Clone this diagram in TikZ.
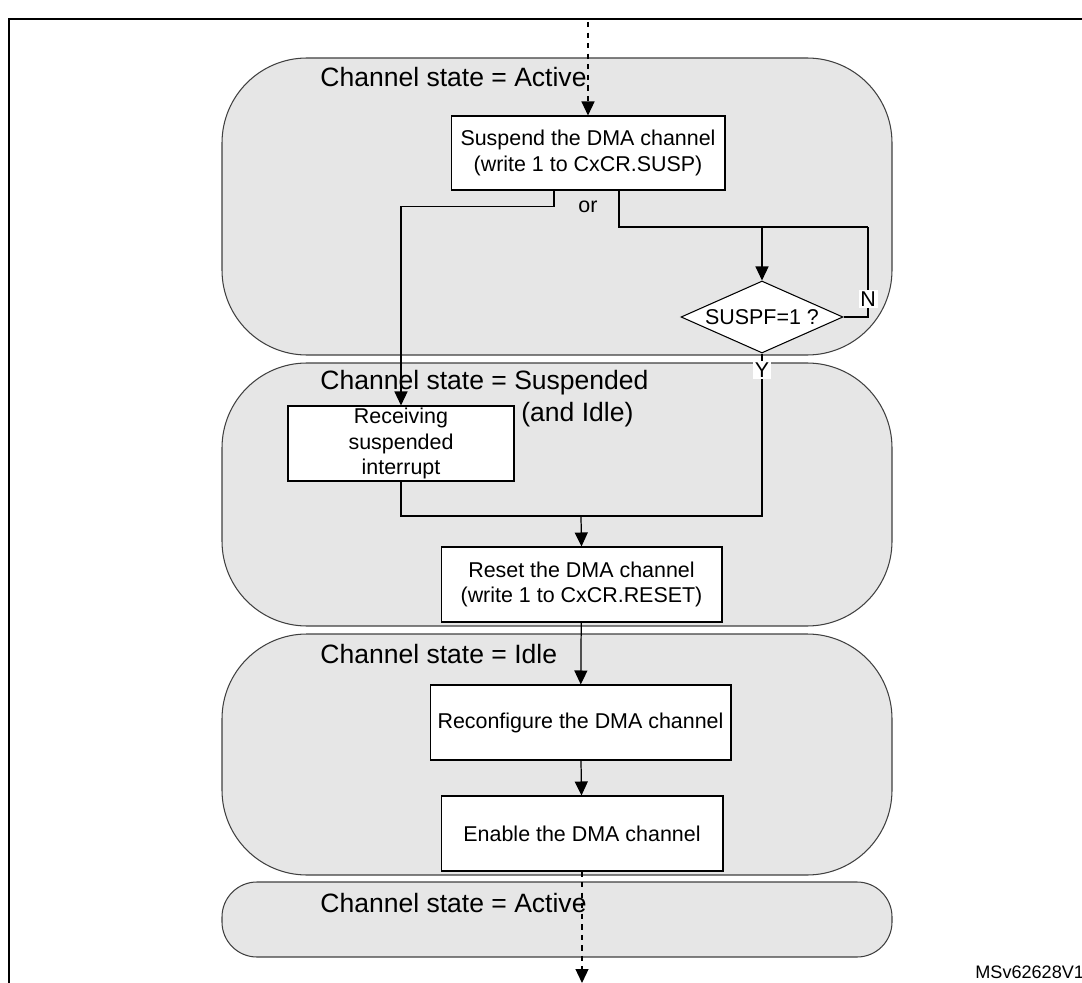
\documentclass[tikz,border=0pt]{standalone}
\usepackage{fontspec}
\setmainfont{Liberation Sans}
\usetikzlibrary{arrows.meta,shapes.geometric}
\definecolor{regiongray}{RGB}{230,230,230}

\begin{document}
\begin{tikzpicture}[x=0.02cm,y=-0.02cm,
	region/.style={draw=black!75,fill=regiongray,line width=0.6pt},
	statelabel/.style={anchor=west,inner sep=0pt,font=\fontsize{15.1}{18}\selectfont},
	stepbox/.style={draw,fill=white,line width=0.6pt,align=center,inner sep=0pt,
		font=\fontsize{12.2}{14.3}\selectfont},
	decision/.style={diamond,draw,fill=white,line width=0.6pt,inner sep=0pt,aspect=2.25,
		minimum width=3.24cm,minimum height=1.44cm,font=\fontsize{12.2}{14.3}\selectfont},
	line/.style={line width=0.7pt},
	flow/.style={line width=0.7pt,-{Triangle[length=0.28cm,width=0.26cm]}},
	tag/.style={fill=white,inner sep=1pt,font=\fontsize{12.2}{14.3}\selectfont}]
	\useasboundingbox (0,0) rectangle (1082,983);
	\clip (0,0) rectangle (1082,983);
	% frame
	\draw[line width=1.1pt] (1100,19) -- (9,19) -- (9,1000);
	% state regions
	\draw[region,rounded corners=1.7cm] (222,58) rectangle (892,355);
	\draw[region,rounded corners=1.7cm] (222,363) rectangle (892,626);
	\draw[region,rounded corners=1.7cm] (222,634) rectangle (892,875);
	\draw[region,rounded corners=0.7cm] (222,882) rectangle (892,957);
	\node[statelabel] at (320,77) (active) {Channel state = Active};
	\node[statelabel] at (320,383) (suspended) {Channel state = Suspended};
	\node[statelabel] at (521,415) (andidle) {(and Idle)};
	\node[statelabel] at (320,654) (idle) {Channel state = Idle};
	\node[statelabel] at (320,903) (active2) {Channel state = Active};
	% steps
	\node[stepbox,minimum width=5.48cm,minimum height=1.48cm] at (588,153) (susp)
		{Suspend the DMA channel\\(write 1 to CxCR.SUSP)};
	\node[stepbox,minimum width=4.52cm,minimum height=1.5cm] at (401,443.5) (recv)
		{Receiving\\suspended\\interrupt};
	\node[decision] at (762,317) (check) {SUSPF=1 ?};
	\node[stepbox,minimum width=5.62cm,minimum height=1.5cm] at (581.5,584.5) (reset)
		{Reset the DMA channel\\(write 1 to CxCR.RESET)};
	\node[stepbox,minimum width=6.02cm,minimum height=1.5cm] at (580.5,722.5) (reconf)
		{Reconfigure the DMA channel};
	\node[stepbox,minimum width=5.64cm,minimum height=1.5cm] at (582,833.5) (enable)
		{Enable the DMA channel};
	\node at (588,207) (or) {\fontsize{12.2}{14.3}\selectfont or};
	\node[anchor=west,inner sep=0pt] at (975,972) (ref) {\fontsize{10.3}{12}\selectfont MSv62628V1};
	% connectors
	\coordinate (entry) at (588,22);
	\coordinate (split) at (762,227);
	\coordinate (loop) at (868,227);
	\coordinate (join) at (581,516);
	\coordinate (exit) at (582,983);
	\draw[flow,dashed] (entry) -- (susp.north);
	\draw[flow] ([xshift=-0.68cm]susp.south) -- ++(0,16) -| (recv.north);
	\draw[line] ([xshift=0.62cm]susp.south) |- (loop);
	\draw[flow] (split) -- (check.north);
	\draw[line] (check.east) -| (loop) node[tag,pos=0.6] {N};
	\draw[line] (check.south) |- (join) node[tag,pos=0.05] {Y} -| (recv.south);
	\draw[flow] (join) -- (reset.north);
	\draw[flow] (reset) -- (reconf);
	\draw[flow] (reconf) -- (enable);
	\draw[flow,dashed] (enable.south) -- (exit);
\end{tikzpicture}
\end{document}
